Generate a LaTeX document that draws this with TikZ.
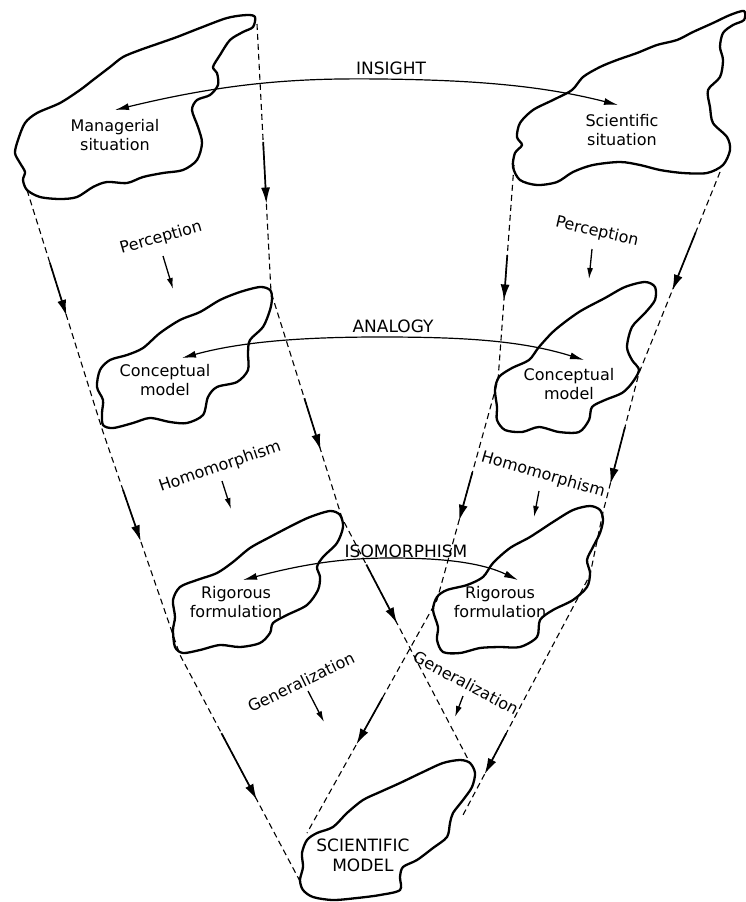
\documentclass[tikz,border=0pt]{standalone}
\usepackage{fontspec}
\setmainfont{DejaVu Sans}
\usetikzlibrary{arrows.meta,calc}
\begin{document}
\begin{tikzpicture}[x=1pt,y=-1pt,
  blob/.style={line width=2.3pt, line join=round},
  bound/.style={line width=1.1pt, dash pattern=on 6pt off 4pt},
  flow/.style={line width=1.7pt, -{Latex[length=16pt,width=9pt]}},
  link/.style={line width=1.2pt, {Latex[length=14pt,width=7pt]}-{Latex[length=14pt,width=7pt]}},
  hint/.style={line width=1.3pt, -{Latex[length=11pt,width=6pt]}},
  lbl/.style={font=\fontsize{16}{19}\selectfont, align=center, inner sep=0pt},
  caplbl/.style={font=\fontsize{17}{20}\selectfont, align=center, inner sep=0pt}]
\useasboundingbox (0,0) rectangle (745,902);

% ---------- blobs ----------
% Managerial situation
\draw[blob] plot[smooth cycle, tension=0.5] coordinates {
 (255,17) (247,15) (227,18) (200,28) (177,37) (160,43) (140,50) (123,57) (110,67)
 (93,80) (80,90) (60,103) (37,113) (25,123) (18,140) (15,153) (20,163) (25,172)
 (23,180) (27,190) (40,197) (60,199) (77,197) (93,187) (107,182) (127,183) (143,177)
 (163,173) (183,170) (197,160) (202,143) (198,127) (192,110) (197,100) (210,95)
 (218,85) (217,73) (213,67) (220,55) (230,40) (243,32) (253,27)};
% Scientific situation
\draw[blob] plot[smooth cycle, tension=0.5] coordinates {
 (744,11) (730,15) (713,23) (693,32) (677,40) (657,45) (637,53) (617,60) (600,67)
 (583,77) (572,90) (553,100) (533,110) (520,123) (517,137) (522,145) (515,153)
 (513,167) (520,180) (537,185) (557,182) (573,172) (593,165) (620,162) (640,165)
 (660,170) (683,173) (707,173) (723,165) (730,150) (727,137) (713,123) (710,107)
 (708,90) (720,77) (723,60) (720,47) (723,33) (733,25) (744,20)};
% Conceptual model (left)
\draw[blob] plot[smooth cycle, tension=0.5] coordinates {
 (270,290) (260,287) (240,292) (220,300) (200,312) (180,320) (160,333) (143,348)
 (127,355) (110,360) (100,370) (97,387) (103,400) (102,413) (103,425) (113,428)
 (133,423) (150,418) (170,422) (187,423) (203,415) (208,397) (217,387) (237,382)
 (248,370) (248,353) (250,340) (263,327) (270,310) (272,298)};
% Conceptual model (right)
\draw[blob] plot[smooth cycle, tension=0.5] coordinates {
 (655,287) (645,282) (625,287) (605,298) (579,312) (555,330) (539,347) (529,360)
 (512,368) (499,377) (495,390) (497,407) (497,420) (505,430) (522,432) (539,427)
 (559,432) (579,432) (589,420) (592,407) (605,400) (622,393) (632,383) (639,370)
 (632,360) (627,347) (632,327) (645,313) (655,300)};
% Rigorous formulation (left)
\draw[blob] plot[smooth cycle, tension=0.5] coordinates {
 (340,515) (330,511) (310,517) (293,525) (270,537) (250,548) (233,562) (217,573)
 (197,580) (180,587) (173,600) (175,617) (173,630) (175,647) (183,653) (200,650)
 (220,645) (240,647) (260,643) (270,633) (273,623) (287,615) (307,605) (318,590)
 (320,577) (317,567) (323,557) (337,543) (343,527)};
% Rigorous formulation (right)
\draw[blob] plot[smooth cycle, tension=0.5] coordinates {
 (600,510) (590,506) (573,510) (553,522) (530,537) (510,548) (493,563) (483,577)
 (467,585) (447,590) (437,597) (433,610) (438,627) (437,640) (443,652) (460,653)
 (480,648) (500,647) (520,647) (537,637) (540,620) (553,610) (573,600) (587,587)
 (590,573) (587,560) (593,547) (600,533) (603,520)};
% Scientific model
\draw[blob] plot[smooth cycle, tension=0.5] coordinates {
 (470,763) (460,760) (443,763) (423,772) (400,783) (380,792) (363,800) (347,813)
 (333,827) (317,833) (307,840) (302,853) (303,867) (300,880) (303,890) (313,897)
 (333,900) (357,898) (380,895) (400,890) (400,877) (403,867) (417,860) (433,848)
 (447,837) (450,823) (453,813) (463,800) (472,787) (475,773)};

% ---------- boundary lines ----------
\coordinate (LO0) at (27,190);
\coordinate (LO1) at (103,432);
\coordinate (LO2) at (180,655);
\coordinate (LO3) at (302,885);
\coordinate (LI0) at (257,24);
\coordinate (LI1) at (271,292);
\coordinate (LI2) at (342,518);
\coordinate (LI3) at (470,763);
\coordinate (RI0) at (514,165);
\coordinate (RI1) at (498,380);
\coordinate (RI2) at (437,600);
\coordinate (RI3) at (307,833);
\coordinate (RO0) at (720,172);
\coordinate (RO1) at (639,373);
\coordinate (RO2) at (603,512);
\coordinate (RO3) at (590,575);
\coordinate (RO4) at (463,815);

\draw[bound] (LO0) -- (LO1) -- (LO2) -- (LO3);
\draw[bound] (LI0) -- (LI1) -- (LI2) -- (LI3);
\draw[bound] (RI0) -- (RI1) -- (RI2) -- (RI3);
\draw[bound] (RO0) -- (RO1) -- (RO2) -- (RO3) -- (RO4);

\draw[flow] ($(LO0)!0.30!(LO1)$) -- ($(LO0)!0.52!(LO1)$);
\draw[flow] ($(LO1)!0.26!(LO2)$) -- ($(LO1)!0.49!(LO2)$);
\draw[flow] ($(LO2)!0.34!(LO3)$) -- ($(LO2)!0.63!(LO3)$);
\draw[flow] ($(LI0)!0.44!(LI1)$) -- ($(LI0)!0.67!(LI1)$);
\draw[flow] ($(LI1)!0.47!(LI2)$) -- ($(LI1)!0.70!(LI2)$);
\draw[flow] ($(LI2)!0.19!(LI3)$) -- ($(LI2)!0.43!(LI3)$);
\draw[flow] ($(RI0)!0.42!(RI1)$) -- ($(RI0)!0.63!(RI1)$);
\draw[flow] ($(RI1)!0.42!(RI2)$) -- ($(RI1)!0.64!(RI2)$);
\draw[flow] ($(RI2)!0.42!(RI3)$) -- ($(RI2)!0.62!(RI3)$);
\draw[flow] ($(RO0)!0.30!(RO1)$) -- ($(RO0)!0.59!(RO1)$);
\draw[flow] ($(RO1)!0.39!(RO2)$) -- ($(RO1)!0.80!(RO2)$);
\draw[flow] ($(RO3)!0.66!(RO4)$) -- ($(RO3)!0.83!(RO4)$);

% ---------- horizontal links ----------
\coordinate (insL) at (115,110);
\coordinate (insR) at (618,105);
\coordinate (anL) at (182,358);
\coordinate (anR) at (584,360);
\coordinate (isoL) at (243,580);
\coordinate (isoR) at (518,580);
\draw[link] (insL) .. controls (230,82) and (300,78) .. (380,79) .. controls (470,80) and (540,85) .. (insR);
\draw[link] (anL) .. controls (240,342) and (300,337) .. (380,337) .. controls (460,337) and (520,340) .. (anR);
\draw[link] (isoL) .. controls (300,565) and (340,558) .. (390,558) .. controls (440,558) and (480,562) .. (isoR);

\node[caplbl] (tIns) at (391,68) {INSIGHT};
\node[caplbl] (tAna) at (393,326) {ANALOGY};
\node[caplbl] (tIso) at (406,551) {ISOMORPHISM};

% ---------- blob texts ----------
\node[lbl] (tMS) at (115,135) {Managerial\\situation};
\node[lbl] (tSS) at (622,130) {Scientific\\situation};
\node[lbl] (tCL) at (165,380) {Conceptual\\model};
\node[lbl] (tCR) at (569,384) {Conceptual\\model};
\node[lbl] (tRL) at (236,602) {Rigorous\\formulation};
\node[lbl] (tRR) at (500,602) {Rigorous\\formulation};
\node[caplbl] (tSM) at (363,855) {SCIENTIFIC\\MODEL};

% ---------- process labels ----------
\node[lbl, rotate=16] (pL) at (161,238) {Perception};
\node[lbl, rotate=-13] (pR) at (597,232) {Perception};
\node[lbl, rotate=19] (hL) at (220,467) {Homomorphism};
\node[lbl, rotate=-16] (hR) at (543,475) {Homomorphism};
\node[lbl, rotate=26] (gL) at (301,682) {Generalization};
\node[lbl, rotate=-28] (gR) at (466,683) {Generalization};

\coordinate (pLa) at (163,256); \coordinate (pLb) at (173,289);
\coordinate (pRa) at (592,249); \coordinate (pRb) at (589,279);
\coordinate (hLa) at (222,481); \coordinate (hLb) at (231,509);
\coordinate (hRa) at (539,491); \coordinate (hRb) at (534,517);
\coordinate (gLa) at (308,691); \coordinate (gLb) at (324,722);
\coordinate (gRa) at (463,696); \coordinate (gRb) at (455,717);
\draw[hint] (pLa) -- (pLb);
\draw[hint] (pRa) -- (pRb);
\draw[hint] (hLa) -- (hLb);
\draw[hint] (hRa) -- (hRb);
\draw[hint] (gLa) -- (gLb);
\draw[hint] (gRa) -- (gRb);
\end{tikzpicture}
\end{document}
